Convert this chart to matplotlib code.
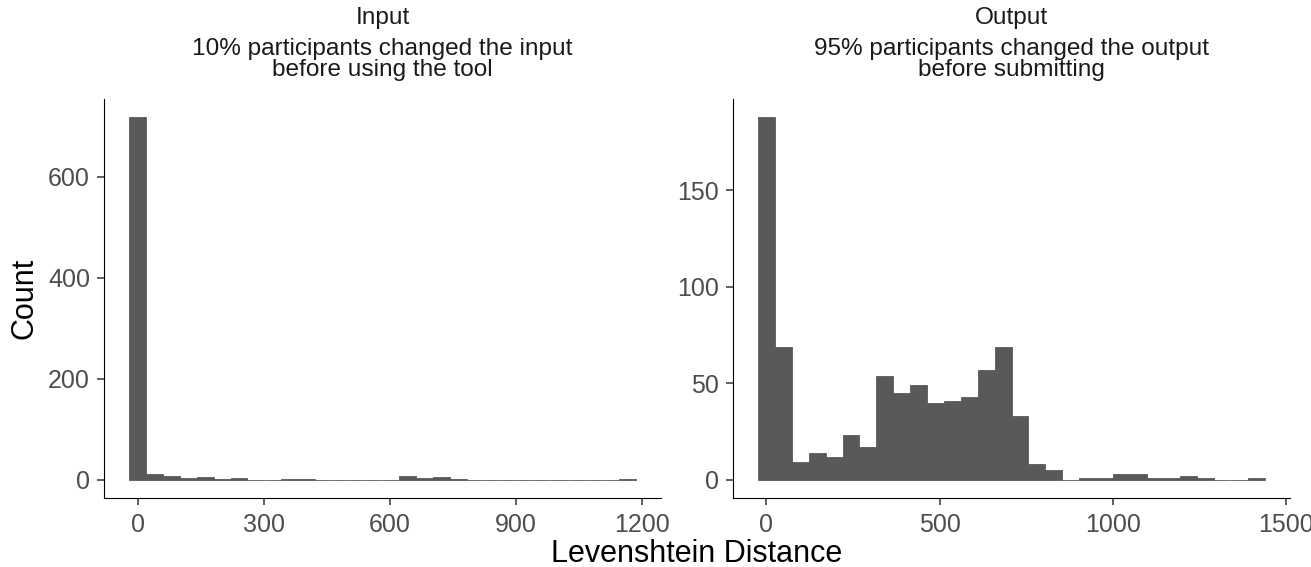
import numpy as np
import matplotlib
matplotlib.use("Agg")
import matplotlib.pyplot as plt

plt.rcParams['font.family'] = ['Liberation Sans', 'DejaVu Sans']

# ---- data (histogram counts, 30 bins each, first bin centred on 0) ----
input_bin_width = 40.2
input_counts = [718, 12, 8, 4, 6, 2, 4, 0, 0, 2,
                2, 0, 0, 0, 0, 0, 8, 4, 6, 2,
                0, 0, 0, 0, 0, 0, 0, 0, 0, 1]
input_xticks = [0, 300, 600, 900, 1200]
input_yticks = [0, 200, 400, 600]

output_bin_width = 48.75
output_counts = [188, 69, 9, 14, 12, 23, 17, 54, 45, 49,
                 40, 41, 43, 57, 69, 33, 8, 5, 0, 1,
                 1, 3, 3, 1, 1, 2, 1, 0, 0, 1]
output_xticks = [0, 500, 1000, 1500]
output_yticks = [0, 50, 100, 150]

titles = [["Input", "10% participants changed the input", "before using the tool"],
          ["Output", "95% participants changed the output", "before submitting"]]
xlabel = "Levenshtein Distance"
ylabel = "Count"

W, H = 1311, 567
fig = plt.figure(figsize=(W / 100, H / 100), dpi=100)

bar_color = '#595959'
tick_size = 18
title_size = 17.6
axis_title_size = 22

panels = [
    (104.0, 557.0, input_counts, input_bin_width, input_xticks, input_yticks, titles[0]),
    (732.7, 557.6, output_counts, output_bin_width, output_xticks, output_yticks, titles[1]),
]

top_px, bottom_px = 99.0, 498.0
for (x0, wpx, counts, w, xt, yt, ttl) in panels:
    ax = fig.add_axes([x0 / W, 1 - bottom_px / H, wpx / W, (bottom_px - top_px) / H])
    n = len(counts)
    edges = -w / 2 + w * np.arange(n)
    ax.bar(edges, counts, width=w, align='edge', color=bar_color,
           edgecolor=bar_color, linewidth=0.6)
    lo, hi = -w / 2, (n - 0.5) * w
    span = hi - lo
    ax.set_xlim(lo - 0.05 * span, hi + 0.05 * span)
    m = max(counts)
    ax.set_ylim(-0.05 * m, 1.05 * m)
    ax.set_xticks(xt)
    ax.set_yticks(yt)
    ax.set_xticklabels([str(v) for v in xt])
    ax.set_yticklabels([str(v) for v in yt])
    for s in ['top', 'right']:
        ax.spines[s].set_visible(False)
    for s in ['left', 'bottom']:
        ax.spines[s].set_color('black')
        ax.spines[s].set_linewidth(0.8)
    ax.tick_params(axis='both', length=5, width=1.1, color='#333333',
                   labelsize=tick_size, labelcolor='#4D4D4D')
    ax.tick_params(axis='x', pad=6.0)
    ax.tick_params(axis='y', pad=5.0)
    cx = (x0 + wpx / 2) / W
    for line, base in zip(ttl, [24.0, 54.5, 76.0]):
        fig.text(cx, 1 - base / H, line, ha='center', va='baseline',
                 fontsize=title_size, color='#1A1A1A')

fig.text(697 / W, 1 - 562 / H, xlabel, ha='center', va='baseline',
         fontsize=axis_title_size, color='black')
fig.text(33 / W, 1 - 298.5 / H, ylabel, ha='center', va='baseline',
         rotation=90, rotation_mode='anchor',
         fontsize=axis_title_size, color='black')

fig.savefig('out.png', dpi=100)
